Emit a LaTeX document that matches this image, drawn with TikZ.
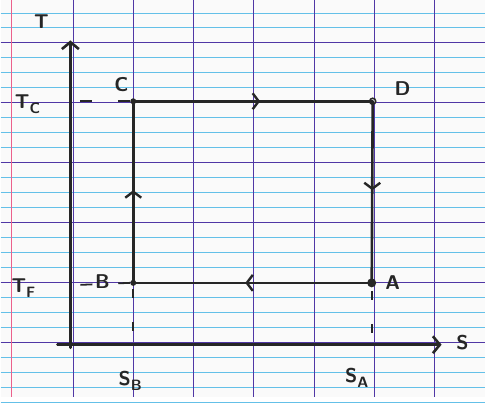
\documentclass[tikz,border=0pt]{standalone}
\usepackage{tikz}
\usetikzlibrary{arrows.meta,positioning,decorations.markings}

\definecolor{ink}{RGB}{38,38,38}
\definecolor{ruleblue}{RGB}{100,192,232}
\definecolor{rulepurple}{RGB}{80,55,165}
\definecolor{marginred}{RGB}{236,96,140}
\definecolor{paper}{RGB}{250,250,250}

\newcommand{\lowsub}[1]{\raisebox{-0.55ex}{\fontsize{15}{15}\selectfont #1}}

\begin{document}
\begin{tikzpicture}[x=1pt,y=-1pt,
  pen/.style={draw=ink,line width=2.6pt,line cap=round},
  axis/.style={pen,-{Straight Barb[length=7pt,width=17pt]}},
  guide/.style={draw=ink,line width=1.8pt,dash pattern=on 12pt off 26pt},
  tick/.style={draw=ink,line width=1.8pt,dash pattern=on 9pt off 24pt},
  flow/.style={pen,postaction={decorate},
    decoration={markings,mark=at position #1 with {\arrow[ink,line width=2.4pt]{Straight Barb[length=6pt,width=16pt]}}}},
  corner/.style={circle,fill=ink,inner sep=0pt,minimum size=6pt},
  opencorner/.style={circle,draw=ink,line width=1.6pt,fill=paper,inner sep=0pt,minimum size=6pt},
  lbl/.style={font=\sffamily\bfseries\fontsize{20}{20}\selectfont,text=ink}
]
% paper
\fill[paper] (0,0) rectangle (486,397);
\foreach \k in {0,...,26}
  \draw[ruleblue,line width=0.9pt] (0,{12.5+15*\k}) -- (486,{12.5+15*\k});
\foreach \k in {0,...,5}
  \draw[rulepurple,line width=1.1pt] (0,{42.5+60*\k}) -- (486,{42.5+60*\k});
\foreach \k in {0,...,6}
  \draw[rulepurple,line width=1pt] ({73+60.3*\k},0) -- ({73+60.3*\k},397);
\draw[marginred,line width=1pt] (11,0) -- (11,397);

% axes
\coordinate (Tfoot) at (70,348);
\coordinate (Ttop) at (70,40);
\coordinate (Sfoot) at (57,345);
\coordinate (Send) at (442,345);
\draw[axis] (Tfoot) -- (Ttop);
\draw[axis] (Sfoot) -- (Send);
\node[lbl] (Tname) at (41,21) {T};
\node[lbl] (Sname) at (463,343) {S};

% cycle
\node[corner] (C) at (133,101) {};
\node[opencorner] (D) at (373,101) {};
\node[corner,minimum size=9pt] (A) at (372,283) {};
\node[corner] (B) at (133,283) {};
\draw[flow=0.53] (C.center) -- (D.center);
\draw[flow=0.49] (D.center) -- (A.center);
\draw[flow=0.53] (A.center) -- (B.center);
\draw[flow=0.51] (B.center) -- (C.center);
\node[lbl] (Cname) at (121,84) {C};
\node[lbl] (Dname) at (403,88) {D};
\node[lbl] (Aname) at (393,283) {A};
\node[lbl] (Bname) at (102,282) {B};

% levels
\coordinate (TC) at (80,101);
\coordinate (TF) at (80,285);
\coordinate (SB) at (133,340);
\coordinate (SA) at (372,347);
\draw[guide] (TC) -- (C.west);
\draw[guide] (TF) -- (B.west);
\draw[tick] (133,289) -- (SB);
\draw[tick] (372,291) -- (SA);
\node[lbl] (TCname) at (27,104) {T\lowsub{C}};
\node[lbl] (TFname) at (23,288) {T\lowsub{F}};
\node[lbl] (SBname) at (130,381) {S\lowsub{B}};
\node[lbl] (SAname) at (357,378) {S\lowsub{A}};
\end{tikzpicture}
\end{document}
